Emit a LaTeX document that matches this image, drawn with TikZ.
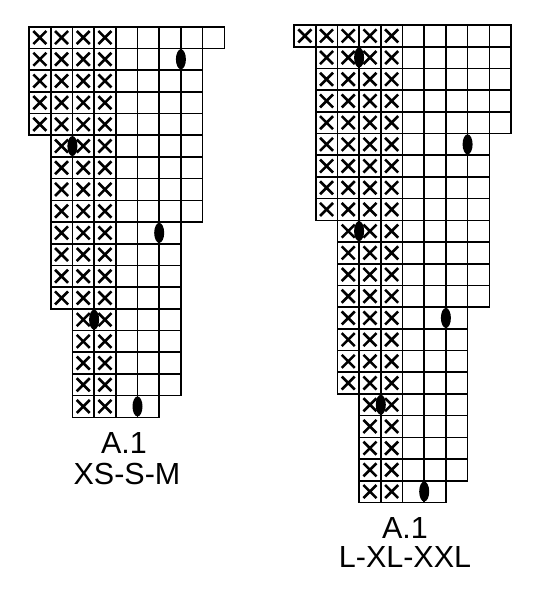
\documentclass[tikz,border=0pt]{standalone}
\usepackage{fontspec}
\setmainfont{Liberation Sans}
\begin{document}
\begin{tikzpicture}[x=1pt,y=-1pt,
  gridline/.style={line width=1.6pt, line join=miter},
  xmark/.style={line width=2.6pt},
  oval/.style={fill=black},
  lbl/.style={font=\fontsize{30.5}{33}\selectfont, inner sep=0pt, anchor=base}]
\useasboundingbox[fill=white] (0,0) rectangle (550,595);
% Left chart XS-S-M
\begin{scope}[shift={(29pt,-26.7pt)}, x=21.7pt, y=-21.7pt]
  \foreach \r/\s/\e in {1/0/9,2/0/8,3/0/8,4/0/8,5/0/8,6/1/8,7/1/8,8/1/8,9/1/8,10/1/7,11/1/7,12/1/7,13/1/7,14/2/7,15/2/7,16/2/7,17/2/7,18/2/6}{
    \pgfmathtruncatemacro\ee{\e-1}
    \foreach \c in {\s,...,\ee}{
      \draw[gridline] (\c,\r-1) rectangle (\c+1,\r);
      \ifnum\c<4
        \draw[xmark] (\c+0.2,\r-0.8) -- (\c+0.8,\r-0.2) (\c+0.2,\r-0.2) -- (\c+0.8,\r-0.8);
      \fi
    }
  }
  \foreach \k/\r in {7/2,2/6,6/10,3/14,5/18}{
    \fill[oval] (\k,\r-0.5) ellipse [x radius=5pt, y radius=10pt];
  }
\end{scope}
% Right chart L-XL-XXL
\begin{scope}[shift={(294pt,-25pt)}, x=21.7pt, y=-21.7pt]
  \foreach \r/\s/\e in {1/0/10,2/1/10,3/1/10,4/1/10,5/1/10,6/1/9,7/1/9,8/1/9,9/1/9,10/2/9,11/2/9,12/2/9,13/2/9,14/2/8,15/2/8,16/2/8,17/2/8,18/3/8,19/3/8,20/3/8,21/3/8,22/3/7}{
    \pgfmathtruncatemacro\ee{\e-1}
    \foreach \c in {\s,...,\ee}{
      \draw[gridline] (\c,\r-1) rectangle (\c+1,\r);
      \ifnum\c<5
        \draw[xmark] (\c+0.2,\r-0.8) -- (\c+0.8,\r-0.2) (\c+0.2,\r-0.2) -- (\c+0.8,\r-0.8);
      \fi
    }
  }
  \foreach \k/\r in {3/2,8/6,3/10,7/14,4/18,6/22}{
    \fill[oval] (\k,\r-0.5) ellipse [x radius=5pt, y radius=10pt];
  }
\end{scope}
\node[lbl] (ta) at (124,453) {A.1};
\node[lbl] (tb) at (127,484) {XS-S-M};
\node[lbl] (tc) at (405,538) {A.1};
\node[lbl] (td) at (405,567) {L-XL-XXL};
\end{tikzpicture}
\end{document}
